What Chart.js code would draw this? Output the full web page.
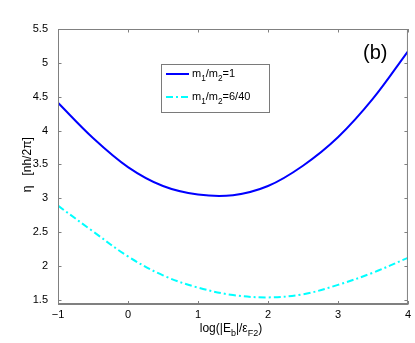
<!DOCTYPE html>
<html><head><meta charset="utf-8">
<script src="https://cdn.jsdelivr.net/npm/chart.js@4"></script>
<style>html,body{margin:0;padding:0;background:#fff;} canvas{display:block}</style>
</head><body>
<canvas id="c" width="415" height="343"></canvas>
<script>
// ---- data ----
const xBlue = [-1, -0.5, 0, 0.5, 1, 1.5, 2, 2.5, 3, 3.5, 4];
const yBlue = [4.41, 3.89, 3.46, 3.18, 3.055, 3.045, 3.18, 3.48, 3.90, 4.47, 5.17];
const xCyan = [-1, -0.5, 0, 0.5, 1, 1.5, 2, 2.5, 3, 3.5, 4];
const yCyan = [2.89, 2.51, 2.14, 1.86, 1.68, 1.57, 1.535, 1.58, 1.72, 1.90, 2.12];
const xTicks = [-1, 0, 1, 2, 3, 4];
const yTicks = [1.5, 2, 2.5, 3, 3.5, 4, 4.5, 5, 5.5];
const seriesLabels = ['m_1/m_2=1', 'm_1/m_2=6/40'];
const xTitle = 'log(|E_b|/\u03b5_{F2})';
const yTitle = '\u03b7   [nh/2\u03c0]';
const panelLabel = '(b)';

const FONT = '"Liberation Sans", Arial, Helvetica, sans-serif';

function parseRich(s) {
  const segs = []; let buf = '';
  for (let i = 0; i < s.length; i++) {
    const c = s[i];
    if (c === '_') {
      if (buf) { segs.push({t: buf, sub: false}); buf = ''; }
      if (s[i + 1] === '{') {
        const j = s.indexOf('}', i + 2);
        segs.push({t: s.slice(i + 2, j), sub: true}); i = j;
      } else { segs.push({t: s[i + 1], sub: true}); i++; }
    } else buf += c;
  }
  if (buf) segs.push({t: buf, sub: false});
  return segs;
}
function richWidth(ctx, s, size) {
  let w = 0;
  for (const seg of parseRich(s)) {
    ctx.font = (seg.sub ? size * 0.75 : size) + 'px ' + FONT;
    w += ctx.measureText(seg.t).width;
  }
  return w;
}
function drawRich(ctx, s, x, y, size) {
  ctx.textBaseline = 'alphabetic'; ctx.textAlign = 'left';
  for (const seg of parseRich(s)) {
    const fs = seg.sub ? size * 0.75 : size;
    ctx.font = fs + 'px ' + FONT;
    ctx.fillText(seg.t, x, y + (seg.sub ? size * 0.35 : 0));
    x += ctx.measureText(seg.t).width;
  }
}

const decor = {
  id: 'decor',
  afterDraw(chart) {
    const ctx = chart.ctx, a = chart.chartArea;
    const xs = chart.scales.x, ys = chart.scales.y;
    ctx.save();
    // frame
    ctx.strokeStyle = '#808080'; ctx.lineWidth = 1;
    ctx.strokeRect(a.left + 0.5, a.top + 0.5, a.right - a.left - 1, a.bottom - a.top - 1);
    ctx.lineWidth = 2;
    ctx.beginPath(); ctx.moveTo(a.left, a.bottom - 0.5); ctx.lineTo(a.right, a.bottom - 0.5); ctx.stroke();
    // inward ticks
    ctx.lineWidth = 1; ctx.strokeStyle = '#808080';
    const tl = 3.5;
    ctx.beginPath();
    for (const v of xTicks) {
      const px = Math.round(xs.getPixelForValue(v)) + 0.5;
      ctx.moveTo(px, a.bottom); ctx.lineTo(px, a.bottom - tl);
      ctx.moveTo(px, a.top); ctx.lineTo(px, a.top + tl);
    }
    for (const v of yTicks) {
      const py = Math.round(ys.getPixelForValue(v)) + 0.5;
      ctx.moveTo(a.left, py); ctx.lineTo(a.left + tl, py);
      ctx.moveTo(a.right, py); ctx.lineTo(a.right - tl, py);
    }
    ctx.stroke();

    // panel label
    ctx.fillStyle = '#000';
    ctx.font = '20px ' + FONT; ctx.textAlign = 'left'; ctx.textBaseline = 'middle';
    ctx.fillText(panelLabel, a.left + 305, a.top + 24);

    // legend
    const lx = a.left + 103, ly = a.top + 35, lw = 108, lh = 48;
    ctx.fillStyle = '#fff'; ctx.fillRect(lx, ly, lw, lh);
    ctx.strokeStyle = '#7a7a7a'; ctx.lineWidth = 1;
    ctx.strokeRect(lx + 0.5, ly + 0.5, lw, lh);
    chart.data.datasets.forEach((ds, i) => {
      const yy = ly + 10 + i * 23;
      ctx.strokeStyle = ds.borderColor; ctx.lineWidth = ds.borderWidth;
      ctx.setLineDash(ds.borderDash || []);
      ctx.beginPath(); ctx.moveTo(lx + 5, yy); ctx.lineTo(lx + 28, yy); ctx.stroke();
      ctx.setLineDash([]);
      ctx.fillStyle = '#000';
      drawRich(ctx, ds.label, lx + 31, yy + 3, 11);
    });

    // x title
    ctx.fillStyle = '#000';
    const xw = richWidth(ctx, xTitle, 12);
    drawRich(ctx, xTitle, (a.left + a.right) / 2 - xw / 2 - 2, a.bottom + 27, 12);

    // y title (rotated)
    ctx.translate(31, (a.top + a.bottom) / 2 - 2);
    ctx.rotate(-Math.PI / 2);
    const yw = richWidth(ctx, yTitle, 12);
    drawRich(ctx, yTitle, -yw / 2, 0, 12);
    ctx.restore();
  }
};

new Chart(document.getElementById('c'), {
  type: 'line',
  data: {
    datasets: [
      { label: seriesLabels[0], data: xBlue.map((x, i) => ({x, y: yBlue[i]})),
        borderColor: '#0000ff', borderWidth: 2, pointRadius: 0, tension: 0.35, fill: false },
      { label: seriesLabels[1], data: xCyan.map((x, i) => ({x, y: yCyan[i]})),
        borderColor: '#00ffff', borderWidth: 2, borderDash: [7, 3, 2, 3], pointRadius: 0, tension: 0.35, fill: false }
    ]
  },
  options: {
    responsive: false, animation: false, devicePixelRatio: 1,
    layout: { padding: { top: 29, right: 6.5, left: 0, bottom: 0 } },
    plugins: { legend: { display: false }, tooltip: { enabled: false } },
    scales: {
      x: {
        type: 'linear', min: -1, max: 4,
        afterBuildTicks: s => { s.ticks = xTicks.map(v => ({value: v})); },
        afterFit: s => { s.height = 343 - 304.5; },
        grid: { display: false, drawTicks: false },
        border: { display: false },
        ticks: { padding: 4, color: '#000', font: { size: 11, family: FONT },
                 callback: v => String(v).replace('-', '\u2212') }
      },
      y: {
        type: 'linear', min: 1.43, max: 5.5,
        afterBuildTicks: s => { s.ticks = yTicks.map(v => ({value: v})); },
        afterFit: s => { s.width = 58; },
        grid: { display: false, drawTicks: false },
        border: { display: false },
        ticks: { padding: 10, color: '#000', font: { size: 11, family: FONT },
                 callback: v => String(v) }
      }
    }
  },
  plugins: [decor]
});
</script>
</body></html>
